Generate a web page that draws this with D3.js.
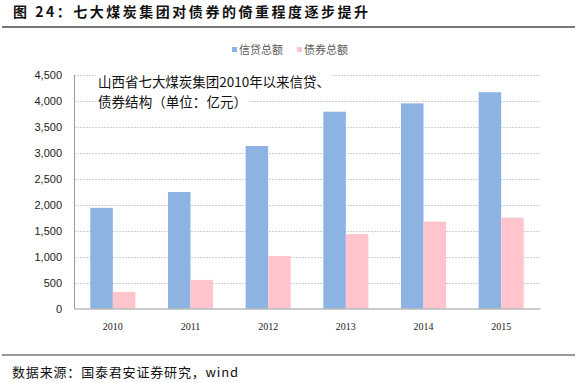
<!DOCTYPE html>
<html>
<head>
<meta charset="utf-8">
<script src="https://cdn.jsdelivr.net/npm/d3@7"></script>
<style>
  body { margin: 0; background: #fff; }
</style>
</head>
<body>
<div id="chart"></div>
<script>
var years = ["2010", "2011", "2012", "2013", "2014", "2015"];
var creditTotal = [1935, 2240, 3125, 3785, 3945, 4160];
var bondTotal = [320, 550, 1010, 1430, 1670, 1745];
var seriesNames = ["信贷总额", "债券总额"];
var yTicks = [0, 500, 1000, 1500, 2000, 2500, 3000, 3500, 4000, 4500];
var titleText = "图 24：七大煤炭集团对债券的倚重程度逐步提升";
var noteLines = ["山西省七大煤炭集团2010年以来信贷、", "债券结构（单位：亿元）"];
var sourceText = "数据来源：国泰君安证券研究，wind";

var colors = ["#8db3e2", "#ffc4cc"];
var cjk = "'Noto Sans CJK SC', sans-serif";

var svgWidth = 577, svgHeight = 383;
var plot = { left: 74, right: 540, top: 74.5, bottom: 308.5 };

var svg = d3.select("#chart").append("svg")
  .attr("width", svgWidth)
  .attr("height", svgHeight);

// title + rule
svg.append("text")
  .attr("x", 13).attr("y", 17)
  .attr("font-family", cjk)
  .attr("font-weight", "bold")
  .attr("font-size", "14px")
  .attr("fill", "#111")
  .attr("textLength", 355)
  .attr("lengthAdjust", "spacing")
  .text(titleText);

svg.append("line")
  .attr("x1", 2).attr("x2", 575)
  .attr("y1", 27).attr("y2", 27)
  .attr("stroke", "#777").attr("stroke-width", 2);

// scales
var x0 = d3.scaleBand()
  .domain(years)
  .range([plot.left, plot.right])
  .paddingInner(0.42)
  .paddingOuter(0.21);

var x1 = d3.scaleBand()
  .domain([0, 1])
  .range([0, x0.bandwidth()]);

var y = d3.scaleLinear()
  .domain([0, 4500])
  .range([plot.bottom, plot.top]);

// gridlines
svg.append("g")
  .selectAll("line")
  .data(yTicks.slice(1))
  .enter().append("line")
  .attr("x1", plot.left).attr("x2", plot.right)
  .attr("y1", d => Math.round(y(d)) + 0.5)
  .attr("y2", d => Math.round(y(d)) + 0.5)
  .attr("stroke", "#cfcfcf")
  .attr("stroke-dasharray", "2,1");

// note box over the grid
var noteWidths = [232, 149];
var note = svg.append("g");
noteLines.forEach(function(line, i) {
  var t = note.append("text")
    .attr("x", 98).attr("y", 87 + i * 20)
    .attr("font-family", cjk)
    .attr("font-size", "13.5px")
    .attr("fill", "#111")
    .attr("textLength", noteWidths[i])
    .attr("lengthAdjust", "spacing")
    .text(line);
  var bb = t.node().getBBox();
  note.insert("rect", "text")
    .attr("x", bb.x - 2).attr("y", bb.y)
    .attr("width", bb.width + 4).attr("height", bb.height)
    .attr("fill", "#fff");
});

// bars
var rows = years.map(function(yr, i) {
  return { year: yr, values: [creditTotal[i], bondTotal[i]] };
});

var groups = svg.append("g")
  .selectAll("g")
  .data(rows)
  .enter().append("g")
  .attr("transform", d => `translate(${x0(d.year)},0)`);

groups.selectAll("rect")
  .data(d => d.values.map((v, k) => ({ k: k, v: v })))
  .enter().append("rect")
  .attr("x", d => x1(d.k))
  .attr("width", x1.bandwidth())
  .attr("y", d => y(d.v))
  .attr("height", d => y(0) - y(d.v))
  .attr("fill", d => colors[d.k]);

// axes
var leftAxis = d3.axisLeft(y).tickValues(yTicks).tickFormat(d3.format(",")).tickSize(0).tickPadding(12);
var gy = svg.append("g")
  .attr("transform", `translate(${plot.left},0)`)
  .call(leftAxis);
gy.select(".domain").attr("stroke", "#999");
gy.selectAll("text")
  .attr("font-family", "'Liberation Sans', Arial, sans-serif")
  .attr("font-size", "11px")
  .attr("fill", "#222");

var bottomAxis = d3.axisBottom(x0).tickSize(0).tickPadding(14);
var gx = svg.append("g")
  .attr("transform", `translate(0,${plot.bottom})`)
  .call(bottomAxis);
gx.select(".domain").attr("stroke", "#999");
gx.selectAll("text")
  .attr("font-family", "'Liberation Serif', serif")
  .attr("font-size", "10px")
  .attr("fill", "#222");

// legend
var legendX = [232, 297];
var legend = svg.append("g");
seriesNames.forEach(function(name, i) {
  legend.append("rect")
    .attr("x", legendX[i]).attr("y", 47)
    .attr("width", 5).attr("height", 5)
    .attr("fill", colors[i]);
  legend.append("text")
    .attr("x", legendX[i] + 7).attr("y", 54)
    .attr("font-family", cjk)
    .attr("font-size", "11px")
    .attr("fill", "#595959")
    .text(name);
});

// footer
svg.append("line")
  .attr("x1", 2).attr("x2", 575)
  .attr("y1", 355).attr("y2", 355)
  .attr("stroke", "#777").attr("stroke-width", 1.5);

svg.append("text")
  .attr("x", 12).attr("y", 377)
  .attr("font-family", cjk)
  .attr("font-size", "13px")
  .attr("fill", "#111")
  .attr("textLength", 226)
  .attr("lengthAdjust", "spacing")
  .text(sourceText);
</script>
</body>
</html>
